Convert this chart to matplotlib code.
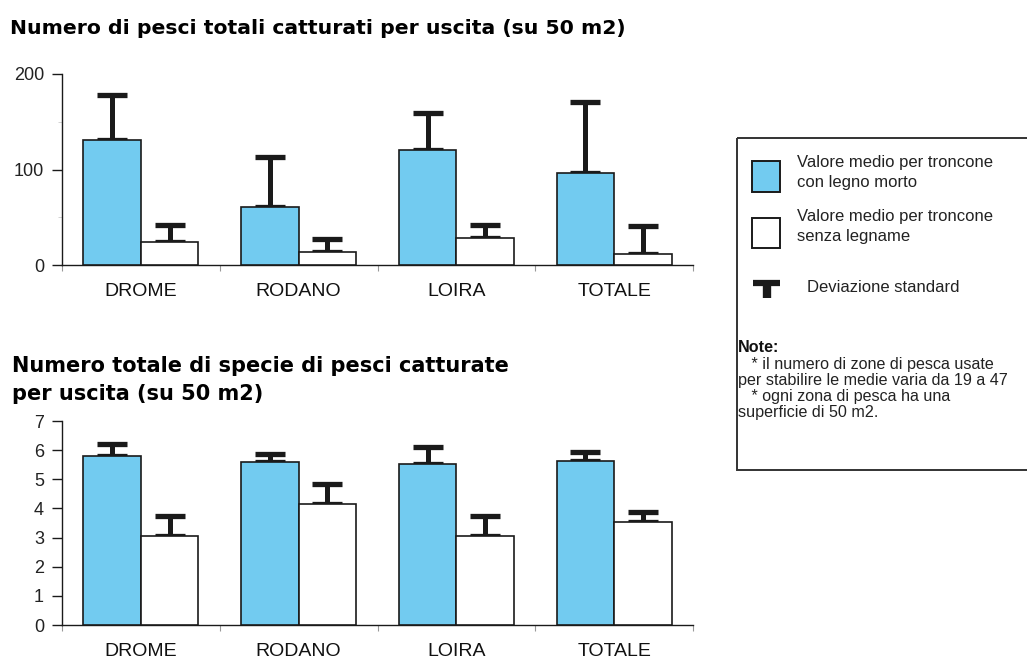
import matplotlib
matplotlib.use("Agg")
import matplotlib.pyplot as plt
from matplotlib.patches import Rectangle
import numpy as np

# dati: media per tratto e deviazione standard (solo verso l'alto)
categorie = ["DROME", "RODANO", "LOIRA", "TOTALE"]

pesci_legno = [131, 61, 120, 96]
pesci_legno_sd = [47, 52, 39, 75]
pesci_senza = [24, 14, 28, 11]
pesci_senza_sd = [18, 13, 14, 30]

specie_legno = [5.80, 5.60, 5.53, 5.63]
specie_legno_sd = [0.40, 0.27, 0.57, 0.29]
specie_senza = [3.07, 4.16, 3.07, 3.53]
specie_senza_sd = [0.66, 0.67, 0.66, 0.34]

BLU = "#72cbf0"
NERO = "#1a1a1a"
W, H = 1027, 659

fig = plt.figure(figsize=(W / 100, H / 100), dpi=100)
fig.patch.set_facecolor("white")


def px_axes(x0, x1, ytop, ybot):
    # rettangolo in pixel (origine in alto a sinistra) -> axes
    return fig.add_axes([x0 / W, 1 - ybot / H, (x1 - x0) / W, (ybot - ytop) / H])


def disegna(ax, legno, legno_sd, senza, senza_sd, ymax, yticks):
    x = np.arange(len(categorie))
    w = 0.365
    ax.bar(x - w / 2, legno, w, color=BLU, edgecolor=NERO, linewidth=1.2, zorder=3)
    ax.bar(x + w / 2, senza, w, color="white", edgecolor=NERO, linewidth=1.2, zorder=3)
    for xs, m, sd in [(x - w / 2, legno, legno_sd), (x + w / 2, senza, senza_sd)]:
        ax.errorbar(xs, m, yerr=[np.zeros(len(sd)), sd], fmt="none", ecolor=NERO,
                    elinewidth=3.6, capsize=11, capthick=3.8, zorder=2)
    ax.set_xlim(-0.5, len(categorie) - 0.5)
    ax.set_ylim(0, ymax)
    ax.set_yticks(yticks)
    ax.set_yticklabels([str(t) for t in yticks], family="Liberation Sans",
                       fontsize=13, color="#222222")
    ax.set_xticks(np.arange(-0.5, len(categorie)), minor=False)
    ax.set_xticklabels([])
    ax.set_xticks(x, minor=True)
    ax.set_xticklabels(categorie, minor=True, family="Liberation Sans",
                       fontsize=14, color="#111111")
    ax.tick_params(axis="x", which="major", direction="out", length=4,
                   color="#999999", width=0.8)
    ax.tick_params(axis="x", which="minor", length=0, pad=13)
    ax.tick_params(axis="y", which="major", direction="out", length=7,
                   color=NERO, width=1.0, pad=6)
    for s in ["top", "right"]:
        ax.spines[s].set_visible(False)
    for s in ["left", "bottom"]:
        ax.spines[s].set_color(NERO)
        ax.spines[s].set_linewidth(1.0)
    ax.set_facecolor("none")


ax1 = px_axes(62, 693, 74, 265)
disegna(ax1, pesci_legno, pesci_legno_sd, pesci_senza, pesci_senza_sd, 200, [0, 100, 200])
ax1.set_yticks([50, 150], minor=True)
ax1.tick_params(axis="y", which="minor", direction="out", length=3, color="#cccccc")

ax2 = px_axes(62, 693, 421, 625)
disegna(ax2, specie_legno, specie_legno_sd, specie_senza, specie_senza_sd, 7, list(range(8)))

fig.text(10 / W, 1 - 28 / H, "Numero di pesci totali catturati per uscita (su 50 m2)",
         family="DejaVu Sans", fontweight="bold", fontsize=14.7, va="center", ha="left")
fig.text(12 / W, 1 - 380 / H, "Numero totale di specie di pesci catturate\nper uscita (su 50 m2)",
         family="DejaVu Sans", fontweight="bold", fontsize=15, va="center", ha="left",
         linespacing=1.45)

# riquadro legenda e note
leg = fig.add_axes([0, 0, 1, 1], zorder=5)
leg.set_xlim(0, W)
leg.set_ylim(H, 0)
leg.axis("off")
leg.add_patch(Rectangle((737, 138), 320, 332, fill=False, edgecolor="#333333", linewidth=1.4))
leg.add_patch(Rectangle((752, 161), 28, 31, facecolor=BLU, edgecolor=NERO, linewidth=1.4))
leg.add_patch(Rectangle((752, 218), 28, 30, facecolor="white", edgecolor=NERO, linewidth=1.4))
leg.plot([753, 780], [283, 283], color=NERO, linewidth=4.5, solid_capstyle="butt")
leg.plot([766.5, 766.5], [283, 298], color=NERO, linewidth=6.0, solid_capstyle="butt")

tf = dict(family="Liberation Sans", fontsize=12, color="#222222", va="center", ha="left")
leg.text(797, 162, "Valore medio per troncone", **tf)
leg.text(797, 182, "con legno morto", **tf)
leg.text(797, 216, "Valore medio per troncone", **tf)
leg.text(797, 236, "senza legname", **tf)
leg.text(807, 288, "Deviazione standard", **tf)

nf = dict(tf, fontsize=11.6)
leg.text(738, 347, "Note:", family="Liberation Sans", fontsize=11.6, fontweight="bold",
         color="#111111", va="center", ha="left")
leg.text(738, 365, "   * il numero di zone di pesca usate", **nf)
leg.text(738, 381, "per stabilire le medie varia da 19 a 47", **nf)
leg.text(738, 397, "   * ogni zona di pesca ha una", **nf)
leg.text(738, 413, "superficie di 50 m2.", **nf)

fig.savefig("out.png", dpi=100, facecolor="white")
